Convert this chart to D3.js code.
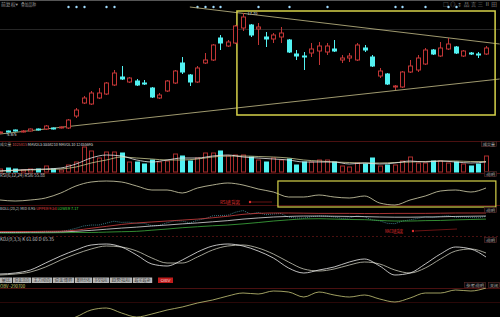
<!DOCTYPE html>
<html>
<head>
<meta charset="utf-8">
<title>K线</title>
<script src="https://cdn.jsdelivr.net/npm/d3@7"></script>
<style>
  body { margin: 0; background: #000; }
  svg { display: block; font-family: "Noto Sans CJK SC", "DejaVu Sans", sans-serif; }
</style>
</head>
<body>
<script>
// daily candles
var opens  = [5.70,5.90,6.00,5.80,5.90,6.10,6.10,6.20,6.20,6.20,7.40,8.70,8.60,9.20,9.60,10.50,11.30,10.80,10.90,10.70,
              10.20,9.20,9.90,10.70,12.70,11.50,10.80,12.70,13.00,15.20,14.40,14.70,16.20,16.50,16.10,15.30,15.10,15.30,15.00,13.60,
              13.40,13.70,13.90,13.80,14.10,13.00,13.20,13.00,14.20,13.30,11.40,11.60,10.30,10.30,11.80,12.00,12.60,14.00,13.40,14.10,
              14.30,13.40,13.70,13.60,13.60];
var closes = [5.80,5.80,5.90,5.90,6.10,6.00,6.40,6.10,6.30,7.00,8.00,9.20,9.70,9.70,10.70,11.70,11.10,11.20,10.50,10.60,
              9.30,9.50,10.90,11.90,11.80,10.80,12.20,13.00,14.50,14.70,14.80,16.40,17.30,15.50,16.30,15.10,15.50,15.70,13.80,13.40,
              13.30,14.10,14.40,14.40,13.90,13.20,13.40,14.50,14.00,12.40,11.90,10.60,10.40,11.80,12.40,13.20,14.00,13.60,14.20,14.60,
              13.70,13.90,13.60,13.50,14.20];
var highs  = [5.85,5.95,6.05,6.00,6.15,6.15,6.50,6.25,6.35,7.10,8.20,9.40,9.90,10.20,10.80,12.00,12.40,11.30,11.10,11.00,
              10.30,9.70,11.00,12.00,13.30,11.60,12.40,13.70,14.60,15.50,15.00,16.50,17.70,16.60,16.70,15.80,15.70,16.30,15.10,14.00,
              13.80,14.70,14.80,14.70,15.00,13.50,13.70,14.70,14.50,13.50,12.20,11.70,10.50,11.90,13.00,13.50,14.20,14.10,14.80,15.20,
              14.40,14.00,13.80,13.80,14.40];
var lows   = [5.65,5.75,5.85,5.75,5.85,5.95,6.00,6.05,6.15,6.10,7.20,8.60,8.50,9.10,9.50,10.40,11.00,10.70,10.40,10.50,
              9.20,9.10,9.80,10.60,11.60,10.40,10.70,12.60,12.90,14.00,14.30,14.60,15.90,15.30,14.50,14.30,14.70,14.70,13.70,13.00,
              12.00,13.30,12.50,13.50,13.80,12.70,12.80,12.90,13.80,12.30,11.20,10.50,10.00,10.20,11.70,11.80,12.50,13.50,13.30,14.00,
              13.60,13.30,13.50,13.20,13.50];
// volume, 万手
var volume = [30,40,30,20,30,30,60,30,20,70,100,250,210,140,200,200,190,100,100,80,
              120,100,110,180,160,110,140,190,190,210,160,170,170,150,120,100,140,120,130,70,
              100,100,120,120,100,60,50,90,80,140,60,70,70,110,150,90,90,110,110,90,
              100,80,60,80,160];

// indicator lines, read every second day
var sampleIdx = [0,2,4,6,8,10,12,14,16,18,20,22,24,26,28,30,32,34,36,38,40,42,44,46,48,50,52,54,56,58,60,62,64];
var mavol5  = [10,20,25,30,40,80,140,170,160,120,100,120,140,140,160,170,150,140,130,120,100,100,100,80,90,80,90,110,100,110,100,90,100];
var mavol10 = [10,15,20,25,30,50,90,120,150,140,130,120,120,130,150,160,160,155,150,140,120,110,100,95,90,90,95,100,105,110,110,105,105];
var rsi6 = [37.5,35,37.5,42.5,55,72.5,82.5,85,82.5,72.5,62.5,62.5,55,67.5,75,80,75,65,57.5,45,45,50,45,42.5,47.5,30,25,37.5,47.5,60,62.5,57.5,67.5];
var bollUpper = [6.3,6.3,6.3,6.4,6.5,7.0,8.0,9.0,10.0,10.8,11.3,11.8,12.3,12.8,13.5,14.3,15.3,15.8,16.0,16.0,15.9,15.8,15.8,15.8,15.7,15.7,15.8,15.8,15.8,15.9,16.0,16.0,16.0];
var bollMid   = [5.9,5.9,5.95,6.0,6.1,6.4,6.9,7.5,8.1,8.6,9.2,9.7,10.3,10.8,11.4,12.0,12.8,13.4,13.9,14.2,14.4,14.4,14.3,14.2,14.1,13.9,13.8,13.8,13.9,14.0,14.2,14.3,14.4];
var bollLower = [5.5,5.5,5.6,5.6,5.7,5.8,5.8,6.0,6.2,6.4,7.0,7.6,8.3,8.8,9.3,9.7,10.3,11.0,11.8,12.4,12.9,13.0,12.8,12.6,12.5,12.1,11.8,11.8,12.0,12.1,12.4,12.6,12.8];
var kdjK = [15,17.5,25,42.5,60,75,87.5,90,82.5,62.5,40,35,50,70,85,90,85,72.5,55,30,17.5,25,32.5,45,52.5,35,12.5,17.5,40,65,82.5,77.5,57.5];
var kdjD = [12.5,15,20,32.5,50,65,77.5,85,82.5,72.5,55,42.5,42.5,57.5,75,85,87.5,80,65,45,27.5,22.5,27.5,37.5,45,40,25,17.5,30,52.5,72.5,77.5,67.5];
var obv = [-462.5,-475,-487.5,-475,-425,-362.5,-275,-250,-312.5,-362.5,-325,-275,-237.5,-187.5,-150,-100,-62.5,-75,-37.5,-50,
           -112.5,-50,-87.5,-112.5,-87.5,-137.5,-175,-125,-62.5,-62.5,-25,-37.5,0];

// info-mine markers and drawn trend lines (day index, price)
var markIdx = [9,10,11,14,15,26,27,28,29,34,38,43,52,53,56,59,60];
var trendLines = [[[0, 5.6], [65.8, 11.1]], [[25, 18.3], [65.8, 14.6]]];
var tabNames = ["量比", "资金流向", "主力动向", "资金博弈", "筹码分布", "多空指标", "趋势指标", "超买超卖"];

var w = 500, h = 317;
var red = "#c23636", cyan = "#52f2f2", grid = "#4a1010";

var svg = d3.select("body").append("svg")
  .attr("width", w)
  .attr("height", h);
svg.append("rect").attr("width", w).attr("height", h).attr("fill", "#000");

var x = d3.scaleLinear().domain([0, 64]).range([0, 486]);
var yPrice = d3.scaleLinear().domain([5, 18]).range([140, 10]);
var yVol = d3.scaleLinear().domain([0, 260]).range([172, 146]);
var yRsi = d3.scaleLinear().domain([0, 100]).range([215, 175]);
var yBoll = d3.scaleLinear().domain([5, 16]).range([234, 213]);
var yKdj = d3.scaleLinear().domain([0, 100]).range([280, 240]);
var yObv = d3.scaleLinear().domain([-500, 0]).range([328, 288]);

function px(i) { return Math.round(x(i)) + 0.5; }
function isUp(i) { return closes[i] >= opens[i]; }

function hline(y, color, dash) {
  svg.append("line")
    .attr("x1", 0).attr("x2", w)
    .attr("y1", y).attr("y2", y)
    .attr("stroke", color)
    .attr("stroke-dasharray", dash || null);
}

// one text element, coloured pieces squeezed into len pixels (len null = natural width)
function label(parts, x0, y0, len, size) {
  var t = svg.append("text")
    .attr("x", x0).attr("y", y0)
    .attr("font-size", size || 4.5);
  if (len) {
    t.attr("textLength", len).attr("lengthAdjust", "spacingAndGlyphs");
  }
  parts.forEach(function(p) {
    t.append("tspan").attr("fill", p[1]).text(p[0]);
  });
  return t;
}

// frame lines
hline(0.5, "#555");
hline(29.5, "#262626");
hline(141.5, grid);
hline(173.5, grid);
hline(205.5, grid);
hline(236.5, grid, "2,2");
hline(288.5, grid);
hline(302.5, "#2a0808");

// header
label([["前复权▾", "#999"]], 1, 5.5, 17);
label([["叠加品种", "#999"]], 21, 5.5, 15);
label([["□ ◎ ↕ 品 言 三 Ⅱ 田", "#888"]], 443, 5.5, 54);

// markers
svg.selectAll("circle.mark")
  .data(markIdx)
  .enter()
  .append("circle")
  .attr("cx", px)
  .attr("cy", 7)
  .attr("r", 1.2)
  .attr("fill", "#9fdcff");

// trend lines and box
trendLines.forEach(function(t) {
  svg.append("line")
    .attr("x1", x(t[0][0])).attr("y1", yPrice(t[0][1]))
    .attr("x2", x(t[1][0])).attr("y2", yPrice(t[1][1]))
    .attr("stroke", "#c8c08a")
    .attr("stroke-width", 0.8);
});
svg.append("rect")
  .attr("x", x(31.2)).attr("y", yPrice(17.9))
  .attr("width", x(65.2) - x(31.2))
  .attr("height", yPrice(7.5) - yPrice(17.9))
  .attr("fill", "none")
  .attr("stroke", "#d6d24a")
  .attr("stroke-width", 1.5);

// candles
var days = d3.range(opens.length);
var candle = svg.append("g").selectAll("g")
  .data(days)
  .enter()
  .append("g");
candle.append("line")
  .attr("x1", px).attr("x2", px)
  .attr("y1", function(i) { return yPrice(highs[i]); })
  .attr("y2", function(i) { return yPrice(lows[i]); })
  .attr("stroke", function(i) { return isUp(i) ? red : cyan; });
candle.append("rect")
  .attr("x", function(i) { return px(i) - 2; })
  .attr("y", function(i) { return yPrice(Math.max(opens[i], closes[i])); })
  .attr("width", 4)
  .attr("height", function(i) {
    return Math.max(0.6, Math.abs(yPrice(opens[i]) - yPrice(closes[i])));
  })
  .attr("fill", function(i) { return isUp(i) ? "#000" : cyan; })
  .attr("stroke", function(i) { return isUp(i) ? red : cyan; });

// high / low price tags
var hi = d3.maxIndex(highs), lo = d3.minIndex(lows);
label([[d3.format(".2f")(highs[hi]), "#ddd"]], px(hi) + 4, yPrice(highs[hi]) + 2, 10, 4);
label([[d3.format(".2f")(lows[lo]), "#ddd"]], px(lo) + 6, yPrice(lows[lo]) + 2, 10, 4);

// volume
label([["成交量 ", "#aaa"], ["1025815  ", "#d04a4a"], ["MAVOL5 5558210  ", "#ddd"], ["MAVOL10 12455695", "#ddd"]],
  0, 145.5, null, 3.8);
svg.append("g").selectAll("rect")
  .data(days)
  .enter()
  .append("rect")
  .attr("x", function(i) { return px(i) - 2; })
  .attr("y", function(i) { return yVol(volume[i]); })
  .attr("width", 4)
  .attr("height", function(i) { return yVol(0) - yVol(volume[i]); })
  .attr("fill", function(i) { return isUp(i) ? "#000" : cyan; })
  .attr("stroke", function(i) { return isUp(i) ? "#a82c2c" : cyan; });

function drawLine(values, yScale, color) {
  var line = d3.line()
    .x(function(d, k) { return x(sampleIdx[k]); })
    .y(function(d) { return yScale(d); })
    .curve(d3.curveMonotoneX);
  svg.append("path")
    .datum(values)
    .attr("d", line)
    .attr("fill", "none")
    .attr("stroke", color)
    .attr("stroke-width", 0.8);
}

drawLine(mavol10, yVol, "#c8c890");
drawLine(mavol5, yVol, "#e8e8e8");

// RSI
label([["RSI(6,12,24)  RSI6  55.88", "#ccc"]], 0, 177, 45);
drawLine(rsi6, yRsi, "#d8d6b0");
svg.append("rect")
  .attr("x", x(36.6)).attr("y", yRsi(85))
  .attr("width", x(65.3) - x(36.6))
  .attr("height", yRsi(20) - yRsi(85))
  .attr("fill", "none")
  .attr("stroke", "#d6d24a")
  .attr("stroke-width", 1.2);
label([["RSI底背离", "#e03030"]], 220, 204, 20);
svg.append("circle").attr("cx", 250).attr("cy", 202).attr("r", 1.2).attr("fill", "#e03030");
svg.append("line").attr("x1", 251).attr("x2", 272).attr("y1", 202).attr("y2", 202).attr("stroke", "#b02020").attr("stroke-width", 0.6);

// BOLL
label([["BOLL(20,2) MID 8.95  ", "#ccc"], ["UPPER 9.54  ", "#e04040"], ["LOWER 7.17", "#40d040"]], 0, 210, null, 3.8);
var closeLine = d3.line()
  .x(function(i) { return x(i); })
  .y(function(i) { return yBoll(closes[i]); });
svg.append("path").datum(days).attr("d", closeLine)
  .attr("fill", "none").attr("stroke", "#5fc8d8").attr("stroke-width", 0.6)
  .attr("stroke-dasharray", "1,1");
drawLine(bollLower, yBoll, "#3fae3f");
drawLine(bollMid, yBoll, "#dddddd");
drawLine(bollUpper, yBoll, "#d04040");
label([["MACD底背离", "#e03030"]], 385, 233, 18);
svg.append("circle").attr("cx", 413).attr("cy", 231).attr("r", 1.2).attr("fill", "#e03030");
svg.append("line").attr("x1", 415).attr("x2", 457).attr("y1", 231).attr("y2", 229).attr("stroke", "#b02020").attr("stroke-width", 0.6);

// KDJ
label([["KDJ(9,3,3)  K  61.60  D  65.35", "#ccc"]], 0, 240.5, 54);
drawLine(kdjD, yKdj, "#c8c8b8");
drawLine(kdjK, yKdj, "#eeeeee");

// tab bar
var tabEdges = [0, 13, 32, 53, 75, 93, 110, 133, 153];
tabNames.forEach(function(name, k) {
  var x0 = tabEdges[k], x1 = tabEdges[k + 1] || 156;
  svg.append("rect")
    .attr("x", x0).attr("y", 277.5)
    .attr("width", x1 - x0 - 0.8).attr("height", 5.5)
    .attr("fill", "#b8b8b8");
  label([[name, "#333"]], x0 + 1.5, 281.8, x1 - x0 - 4, 4);
});
svg.append("rect").attr("x", 158).attr("y", 277.5).attr("width", 15).attr("height", 5.5).attr("fill", "#c01c1c");
label([["OBV", "#f0d0d0"]], 160.5, 281.8, 10, 4);

// OBV
label([["OBV  -290700", "#d0d070"]], 0, 288, 25);
drawLine(obv, yObv, "#c8c87a");

// right side buttons
var buttons = [["成交量", 481, 141, 15], ["说明", 484, 171, 12], ["说明", 484, 207, 12],
               ["说明", 484, 237, 12], ["参考说明", 464, 282, 21], ["关闭", 488, 282, 11]];
buttons.forEach(function(b) {
  svg.append("rect")
    .attr("x", b[1] + 0.5).attr("y", b[2] + 0.5)
    .attr("width", b[3]).attr("height", 5)
    .attr("fill", "#0a0a0a")
    .attr("stroke", "#5a2a2a")
    .attr("stroke-width", 0.6);
  label([[b[0], "#aaa"]], b[1] + 2, b[2] + 4.6, b[3] - 3, 3.8);
});
</script>
</body>
</html>
